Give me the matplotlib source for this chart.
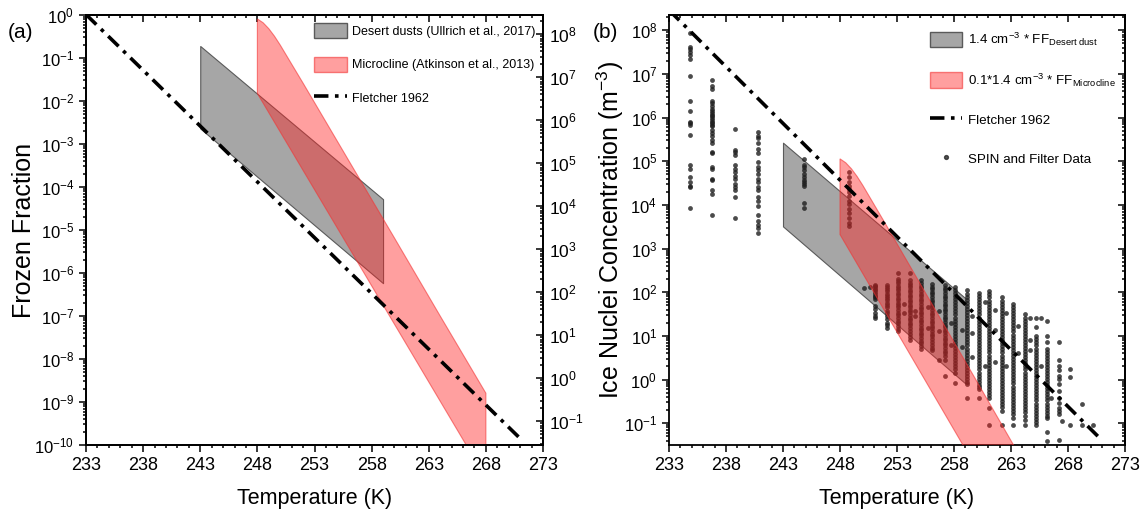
import numpy as np
import matplotlib
matplotlib.use('Agg')
import matplotlib.pyplot as plt
from matplotlib.patches import Patch
from matplotlib.lines import Line2D
from matplotlib.ticker import LogLocator, NullFormatter, FixedLocator

plt.rcParams['font.family'] = ['Liberation Sans', 'DejaVu Sans']
plt.rcParams['mathtext.fontset'] = 'custom'
plt.rcParams['mathtext.rm'] = 'Liberation Sans'
plt.rcParams['mathtext.it'] = 'Liberation Sans:italic'
plt.rcParams['axes.linewidth'] = 1.3

# ---- data ----
# desert dust frozen fraction band (Ullrich et al., 2017)
dust_T = [243, 259]
dust_ff_hi = [0.19, 5.2e-5]
dust_ff_lo = [2.3e-3, 5.8e-7]

# microcline frozen fraction band (Atkinson et al., 2013)
micro_T_hi = [248, 248.5, 249, 249.5, 250, 250.5, 251, 252, 256, 260, 264, 268]
micro_ff_hi = [0.81, 0.66, 0.48, 0.32, 0.2, 0.12, 0.072, 0.026, 4.1e-4, 6.5e-6, 1.0e-7, 1.6e-9]
micro_T_lo = [248, 268]
micro_ff_lo = [0.015, 1.7e-11]

# Fletcher 1962 (m^-3)
fletcher_T = [233, 271]
fletcher_N = [2.9e8, 0.04]

# aerosol number used to scale FF in panel (b), m^-3
n_dust = 1.4e6
micro_factor = 0.1

temp_ticks = [233, 238, 243, 248, 253, 258, 263, 268, 273]

# SPIN and Filter data: column temperatures and log10(INP m^-3)
spin_T = [234.8, 236.8, 238.8, 240.8, 244.8, 248.8, 250.1, 250.6, 251.1, 252.1,
          253.1, 253.6, 254.1, 254.6, 255.1, 255.7, 256.1, 256.7, 257.2, 257.7,
          258.1, 258.7, 259.1, 259.6, 260.2, 260.7, 261.1, 261.6, 262.2, 262.6,
          263.2, 263.6, 264.2, 264.7, 265.2, 265.6, 266.2, 266.5, 267.2, 267.5,
          268.2, 269.2, 270.2]
spin_logN = [
    [7.93, 7.62, 7.58, 7.5, 7.43, 7.35, 6.96, 6.38, 6.15, 5.91, 5.88, 5.84, 5.6,
     4.91, 4.83, 4.64, 4.52, 4.44, 4.4, 3.93],
    [6.85, 6.73, 6.65, 6.38, 6.34, 6.26, 6.19, 6.15, 6.11, 6.07, 6.03, 5.99, 5.95,
     5.91, 5.88, 5.84, 5.8, 5.72, 5.64, 5.57, 5.49, 5.41, 5.22, 5.18, 4.87, 4.83,
     4.6, 4.56, 4.33, 4.25, 3.78],
    [5.74, 5.26, 5.22, 5.14, 4.91, 4.83, 4.75, 4.67, 4.6, 4.48, 4.4, 4.33, 4.17, 3.71],
    [5.68, 5.57, 5.53, 5.41, 5.29, 5.18, 4.98, 4.87, 4.79, 4.71, 4.6, 4.52, 4.4,
     4.33, 4.17, 4.09, 3.98, 3.78, 3.63, 3.55, 3.47, 3.36],
    [5.06, 4.91, 4.87, 4.79, 4.71, 4.64, 4.56, 4.52, 4.48, 4.44, 4.05, 3.93],
    [4.75, 4.64, 4.52, 4.44, 4.36, 4.29, 4.21, 4.09, 4.02, 3.9, 3.82, 3.71, 3.59, 3.51],
    [2.09],
    [2.12],
    [2.17, 2.14, 2.11, 2.08, 2.04, 2.0, 1.96, 1.92, 1.88, 1.84, 1.69, 1.61, 1.53, 1.45, 1.42],
    [2.17, 2.12, 2.07, 2.02, 1.97, 1.92, 1.87, 1.82, 1.76, 1.71, 1.65, 1.58, 1.52,
     1.45, 1.38, 1.3, 1.24, 1.18],
    [2.43, 2.3, 2.25, 2.2, 2.15, 2.09, 2.04, 1.98, 1.93, 1.87, 1.82, 1.76, 1.7, 1.65,
     1.59, 1.53, 1.47, 1.41, 1.35, 1.29, 1.22, 1.16, 1.1],
    [1.73, 1.53],
    [2.45, 2.27, 2.22, 2.16, 2.11, 2.05, 2.0, 1.94, 1.88, 1.83, 1.77, 1.71, 1.65,
     1.6, 1.54, 1.48, 1.42, 1.36, 1.3, 1.24, 1.18, 1.12, 1.05, 0.98, 0.91],
    [1.57, 1.45],
    [2.27, 2.21, 2.15, 2.09, 2.03, 1.97, 1.91, 1.85, 1.79, 1.73, 1.67, 1.61, 1.55,
     1.49, 1.43, 1.37, 1.31, 1.25, 1.19, 1.13, 1.07, 1.01, 0.95, 0.89, 0.83, 0.77, 0.71],
    [1.65, 1.18],
    [2.19, 2.13, 2.07, 2.01, 1.95, 1.89, 1.83, 1.77, 1.71, 1.65, 1.59, 1.53, 1.47,
     1.41, 1.35, 1.29, 1.23, 1.17, 1.11, 1.05, 0.99, 0.93, 0.86, 0.8, 0.73, 0.67],
    [1.57, 1.12, 0.44],
    [2.16, 2.1, 2.04, 1.98, 1.92, 1.86, 1.8, 1.74, 1.68, 1.62, 1.56, 1.5, 1.44, 1.38,
     1.32, 1.26, 1.2, 1.14, 1.08, 1.02, 0.96, 0.9, 0.84, 0.78, 0.72, 0.66, 0.6, 0.53,
     0.44, 0.09],
    [1.3, 0.8],
    [2.12, 2.05, 1.98, 1.91, 1.84, 1.77, 1.7, 1.63, 1.56, 1.49, 1.42, 1.35, 1.28,
     1.21, 1.14, 1.07, 1.0, 0.93, 0.86, 0.79, 0.72, 0.65, 0.58, 0.51, 0.44, 0.37,
     0.3, 0.23, 0.16, -0.07],
    [1.14, 0.75],
    [2.04, 1.97, 1.9, 1.83, 1.76, 1.69, 1.62, 1.55, 1.48, 1.41, 1.34, 1.27, 1.2,
     1.13, 1.06, 0.99, 0.92, 0.85, 0.78, 0.71, 0.64, 0.57, 0.5, 0.43, 0.36, 0.29,
     0.22, 0.15, 0.08, 0.01, -0.06, -0.1, -0.42],
    [1.45, 1.06, 0.52],
    [1.98, 1.91, 1.84, 1.77, 1.7, 1.63, 1.56, 1.49, 1.42, 1.35, 1.28, 1.21, 1.14,
     1.07, 1.0, 0.93, 0.86, 0.79, 0.72, 0.65, 0.58, 0.51, 0.44, 0.37, 0.3, 0.23,
     0.16, 0.09, 0.02, -0.05, -0.12, -0.18, -0.22, -0.42],
    [1.78, 0.32],
    [2.02, 1.95, 1.88, 1.81, 1.74, 1.67, 1.6, 1.53, 1.46, 1.39, 1.32, 1.25, 1.18,
     1.11, 1.04, 0.97, 0.9, 0.83, 0.76, 0.69, 0.62, 0.55, 0.48, 0.41, 0.34, 0.27,
     0.2, 0.13, 0.06, -0.01, -0.08, -0.15, -0.22, -0.29, -0.36, -0.42, -0.65, -1.05],
    [1.6, 1.14, 0.4],
    [1.88, 1.81, 1.74, 1.67, 1.6, 1.53, 1.46, 1.39, 1.32, 1.25, 1.18, 1.11, 1.04,
     0.97, 0.9, 0.83, 0.76, 0.69, 0.62, 0.55, 0.48, 0.41, 0.34, 0.27, 0.2, 0.13,
     0.06, -0.01, -0.08, -0.15, -0.22, -0.29, -0.36, -0.43, -0.5, -0.57, -0.64,
     -0.73, -1.05],
    [1.53, 0.32],
    [1.73, 1.66, 1.59, 1.52, 1.45, 1.38, 1.31, 1.24, 1.17, 1.1, 1.03, 0.96, 0.89,
     0.82, 0.75, 0.68, 0.61, 0.54, 0.47, 0.4, 0.33, 0.26, 0.19, 0.12, 0.05, -0.02,
     -0.09, -0.16, -0.23, -0.3, -0.37, -0.44, -0.51, -0.58, -0.65, -0.72, -0.8,
     -0.88, -1.05],
    [1.22, 0.6],
    [1.49, 1.42, 1.35, 1.28, 1.21, 1.14, 1.07, 1.0, 0.93, 0.86, 0.79, 0.72, 0.65,
     0.58, 0.51, 0.44, 0.37, 0.3, 0.23, 0.16, 0.09, 0.02, -0.05, -0.12, -0.19,
     -0.26, -0.33, -0.4, -0.47, -0.54, -0.61, -0.68, -0.75, -0.84, -0.92, -1.05],
    [1.4, 0.91, 0.67],
    [1.42, 1.2, 0.99, 0.92, 0.85, 0.78, 0.71, 0.64, 0.57, 0.5, 0.43, 0.36, 0.29,
     0.22, 0.15, 0.08, 0.01, -0.06, -0.13, -0.2, -0.27, -0.34, -0.41, -0.48, -0.55,
     -0.62, -0.69, -0.76, -0.83, -0.9, -0.97, -1.04],
    [1.42, 0.3],
    [1.34, 1.0, 0.85, 0.71, 0.64, 0.57, 0.5, 0.43, 0.36, 0.29, 0.22, 0.15, 0.08,
     0.01, -0.06, -0.13, -0.2, -0.27, -0.34, -0.41, -0.48, -0.55, -0.62, -0.69,
     -0.76, -0.83, -0.88, -1.2, -1.4],
    [-0.42],
    [0.87, 0.44, 0.32, 0.21, 0.09, 0.01, -0.1, -0.26, -0.42, -0.53, -0.65, -0.73,
     -0.8, -1.39],
    [-0.96],
    [0.25, 0.05, -1.04],
    [-0.57, -1.04],
    [-1.04],
]

# ---- styles ----
grey_face = (0.5, 0.5, 0.5, 0.7)
grey_edge = '#5a5a5a'
red_face = (1.0, 0.13, 0.13, 0.43)
red_edge = (0.95, 0.2, 0.2, 0.6)
fl_dash = (0, (4, 1.8, 1, 1.8))
pt_color = '#1e1e1e'

W, H = 1145, 513
fig = plt.figure(figsize=(W / 100, H / 100), dpi=100)
ax_a = fig.add_axes([86 / W, 1 - 445 / H, 457 / W, 430 / H])
ax_b = fig.add_axes([669 / W, 1 - 445 / H, 456 / W, 430 / H])


def log_ticks(axis):
    axis.set_major_locator(LogLocator(base=10, numticks=20))
    axis.set_minor_locator(LogLocator(base=10, subs=np.arange(2, 10), numticks=20))
    axis.set_minor_formatter(NullFormatter())


def style(ax):
    ax.set_xlim(233, 273)
    ax.xaxis.set_major_locator(FixedLocator(temp_ticks))
    ax.xaxis.set_minor_locator(FixedLocator(np.arange(233, 274)))
    log_ticks(ax.yaxis)
    ax.tick_params(which='both', direction='out', width=1.1)
    ax.tick_params(axis='x', labelsize=13)
    ax.tick_params(axis='y', labelsize=12)
    ax.tick_params(which='major', length=5)
    ax.tick_params(which='minor', length=2.5)
    top = ax.secondary_xaxis('top')
    top.xaxis.set_major_locator(FixedLocator(temp_ticks))
    top.xaxis.set_minor_locator(FixedLocator(np.arange(233, 274)))
    top.tick_params(which='both', direction='in', width=1.1, labeltop=False)
    top.tick_params(which='major', length=5)
    top.tick_params(which='minor', length=2.5)
    ax.set_xlabel('Temperature (K)', fontsize=15.5, labelpad=10)


# ---- panel (a) ----
ax_a.set_yscale('log')
ax_a.set_ylim(1e-10, 1)
ax_a.fill_between(dust_T, dust_ff_lo, dust_ff_hi, facecolor=grey_face,
                  edgecolor=grey_edge, lw=0.8, zorder=1)
ax_a.fill(np.r_[micro_T_hi, micro_T_lo[::-1]], np.r_[micro_ff_hi, micro_ff_lo[::-1]],
          facecolor=red_face, edgecolor=red_edge, lw=0.8, zorder=2)
style(ax_a)
ax_a.set_ylabel('Frozen Fraction', fontsize=18)
ax_a.yaxis.set_label_coords(-0.11, 0.5)

ax_r = ax_a.twinx()
ax_r.set_yscale('log')
ax_r.set_ylim(10 ** -1.55, 10 ** 8.45)
log_ticks(ax_r.yaxis)
ax_r.tick_params(which='both', direction='in', width=1.1, labelsize=12.5, pad=4)
ax_r.tick_params(which='major', length=5)
ax_r.tick_params(which='minor', length=2.5)
ax_r.plot(fletcher_T, fletcher_N, color='black', lw=2.6, ls=fl_dash, zorder=5)
ax_r.set_xlim(233, 273)

h_a = [Patch(facecolor=grey_face, edgecolor=grey_edge),
       Patch(facecolor=red_face, edgecolor=red_edge),
       Line2D([], [], color='black', lw=2.6, ls=fl_dash)]
l_a = ['Desert dusts (Ullrich et al., 2017)', 'Microcline (Atkinson et al., 2013)',
       'Fletcher 1962']
ax_r.legend(h_a, l_a, loc='upper right', bbox_to_anchor=(1.0, 1.0), frameon=False,
            fontsize=9, handlelength=2.6, handleheight=1.5, labelspacing=1.45,
            handletextpad=0.4, borderaxespad=0.25)

# ---- panel (b) ----
ax_b.set_yscale('log')
ax_b.set_ylim(10 ** -1.5, 10 ** 8.35)
ax_b.fill_between(dust_T, n_dust * np.array(dust_ff_lo), n_dust * np.array(dust_ff_hi),
                  facecolor=grey_face, edgecolor=grey_edge, lw=0.8, zorder=1)
sx = np.concatenate([[t] * len(v) for t, v in zip(spin_T, spin_logN)])
sy = 10 ** np.concatenate([np.array(v) for v in spin_logN])
ax_b.scatter(sx, sy, s=12, color=pt_color, alpha=0.8, lw=0, zorder=2)
mf = micro_factor * n_dust
ax_b.fill(np.r_[micro_T_hi, micro_T_lo[::-1]],
          mf * np.r_[micro_ff_hi, micro_ff_lo[::-1]],
          facecolor=red_face, edgecolor=red_edge, lw=0.8, zorder=3)
ax_b.plot(fletcher_T, fletcher_N, color='black', lw=2.6, ls=fl_dash, zorder=5)
style(ax_b)
ax_b.set_ylabel('Ice Nuclei Concentration (m$^{-3}$)', fontsize=18)
ax_b.yaxis.set_label_coords(-0.094, 0.5)
right = ax_b.secondary_yaxis('right')
log_ticks(right.yaxis)
right.tick_params(which='both', direction='in', width=1.1, labelright=False)
right.tick_params(which='major', length=5)
right.tick_params(which='minor', length=2.5)

h_b = [Patch(facecolor=grey_face, edgecolor=grey_edge),
       Patch(facecolor=red_face, edgecolor=red_edge),
       Line2D([], [], color='black', lw=2.6, ls=fl_dash),
       Line2D([], [], color=pt_color, alpha=0.75, marker='o', ms=2.8, lw=0)]
l_b = [r'1.4 cm$^{-3}$ * FF$_{\mathregular{Desert\ dust}}$',
       r'0.1*1.4 cm$^{-3}$ * FF$_{\mathregular{Microcline}}$',
       'Fletcher 1962', 'SPIN and Filter Data']
ax_b.legend(h_b, l_b, loc='upper right', bbox_to_anchor=(1.0, 0.985), frameon=False,
            fontsize=9.6, handlelength=2.4, handleheight=1.4, labelspacing=1.75,
            handletextpad=0.4, borderaxespad=0.3)

fig.text(8 / W, 1 - 32 / H, '(a)', fontsize=15, va='center', ha='left')
fig.text(593 / W, 1 - 32 / H, '(b)', fontsize=15, va='center', ha='left')

fig.savefig('out.png', dpi=100)
